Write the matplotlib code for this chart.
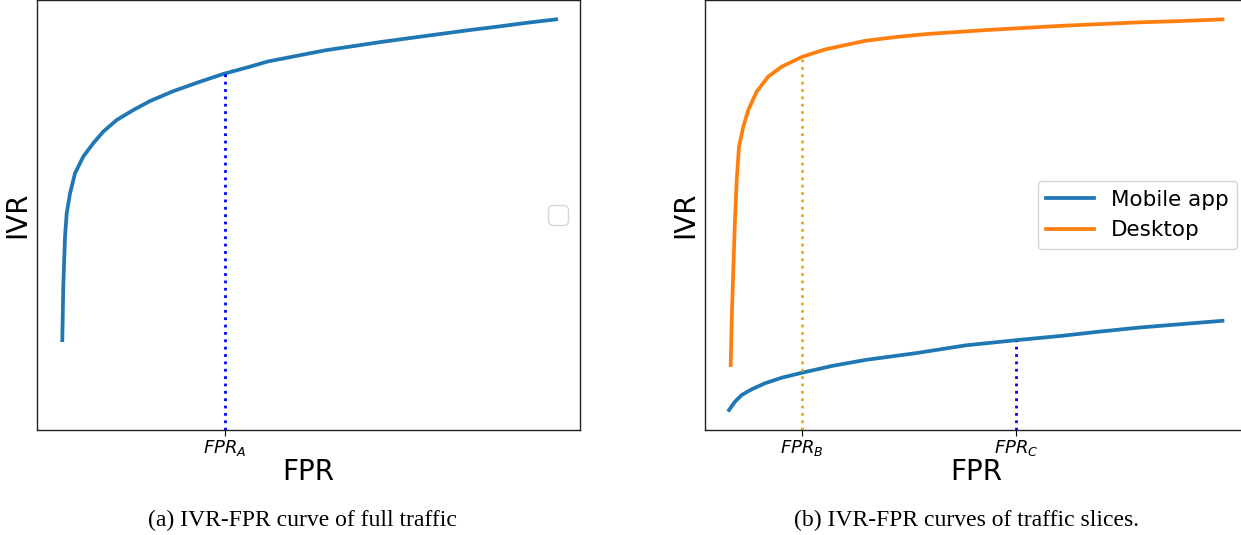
import matplotlib
matplotlib.use("Agg")
import matplotlib.pyplot as plt

# Data (arbitrary normalized units)
full_fpr = [0.0466, 0.0484, 0.0516, 0.0547, 0.0608, 0.070, 0.0853, 0.1037, 0.1221,
            0.1468, 0.1773, 0.2081, 0.2510, 0.3002, 0.3431, 0.3923, 0.425, 0.478,
            0.531, 0.584, 0.637, 0.690, 0.743, 0.796, 0.848, 0.902, 0.956]
full_ivr = [0.209, 0.333, 0.450, 0.504, 0.550, 0.597, 0.636, 0.667, 0.694,
            0.721, 0.744, 0.765, 0.788, 0.810, 0.828, 0.845, 0.857, 0.870,
            0.883, 0.893, 0.903, 0.912, 0.921, 0.930, 0.938, 0.947, 0.955]

desk_fpr = [0.0473, 0.0492, 0.0521, 0.0552, 0.0584, 0.0626, 0.0705, 0.0797, 0.0952,
            0.1166, 0.1413, 0.1792, 0.221, 0.2947, 0.352, 0.410, 0.516, 0.587,
            0.657, 0.728, 0.798, 0.875, 0.953]
desk_ivr = [0.151, 0.256, 0.372, 0.488, 0.581, 0.659, 0.705, 0.744, 0.787,
            0.822, 0.845, 0.868, 0.885, 0.905, 0.914, 0.921, 0.930, 0.935,
            0.940, 0.944, 0.948, 0.951, 0.955]

mob_fpr = [0.0442, 0.0552, 0.0676, 0.086, 0.1105, 0.1413, 0.1792, 0.2333, 0.2947,
           0.3867, 0.481, 0.574, 0.657, 0.728, 0.798, 0.875, 0.953]
mob_ivr = [0.0465, 0.0658, 0.0814, 0.0947, 0.1086, 0.1216, 0.1333, 0.1488, 0.1628,
           0.1784, 0.197, 0.209, 0.219, 0.229, 0.238, 0.246, 0.254]

fpr_a, ivr_a = 0.346, 0.830
fpr_b, ivr_b = 0.179, 0.868
fpr_c, ivr_c = 0.573, 0.207

series_labels = ["Mobile app", "Desktop"]
captions = ["(a) IVR-FPR curve of full traffic", "(b) IVR-FPR curves of traffic slices."]

blue = "#1f77b4"
orange = "#ff7f0e"

W, H = 1241, 535
fig = plt.figure(figsize=(W / 100, H / 100), dpi=100)

ax1 = fig.add_axes([37 / W, 105 / H, 543 / W, 430 / H])
ax2 = fig.add_axes([705 / W, 105 / H, 543 / W, 430 / H])

for ax in (ax1, ax2):
    ax.set_xlim(0, 1)
    ax.set_ylim(0, 1)
    ax.set_yticks([])
    ax.set_xlabel("FPR", fontsize=20, labelpad=0)
    ax.set_ylabel("IVR", fontsize=20, labelpad=4)
    ax.tick_params(axis="x", length=4, labelsize=13, pad=2)
    for s in ax.spines.values():
        s.set_linewidth(1.0)
        s.set_color("#222222")

# Left panel
ax1.plot(full_fpr, full_ivr, color=blue, lw=2.7, solid_joinstyle="round")
ax1.plot([fpr_a, fpr_a], [0, ivr_a], color="blue", lw=2, ls=":")
ax1.set_xticks([fpr_a])
ax1.set_xticklabels([r"$FPR_A$"])
ax1.legend(handles=[], loc="center right", fontsize=18)

# Right panel
ax2.plot(mob_fpr, mob_ivr, color=blue, lw=2.7, solid_joinstyle="round", label=series_labels[0])
ax2.plot(desk_fpr, desk_ivr, color=orange, lw=2.7, solid_joinstyle="round", label=series_labels[1])
ax2.plot([fpr_b, fpr_b], [0, ivr_b], color="orange", lw=2, ls=":")
ax2.plot([fpr_c, fpr_c], [0, ivr_c], color="blue", lw=2, ls=":")
ax2.set_xticks([fpr_b, fpr_c])
ax2.set_xticklabels([r"$FPR_B$", r"$FPR_C$"])
ax2.legend(loc="center right", fontsize=15.5, handlelength=2.2)

fig.text(302 / W, 15 / H, captions[0], ha="center", va="center",
         fontsize=17, family="Liberation Serif")
fig.text(967 / W, 15 / H, captions[1], ha="center", va="center",
         fontsize=17, family="Liberation Serif")

fig.savefig("out.png", dpi=100)
